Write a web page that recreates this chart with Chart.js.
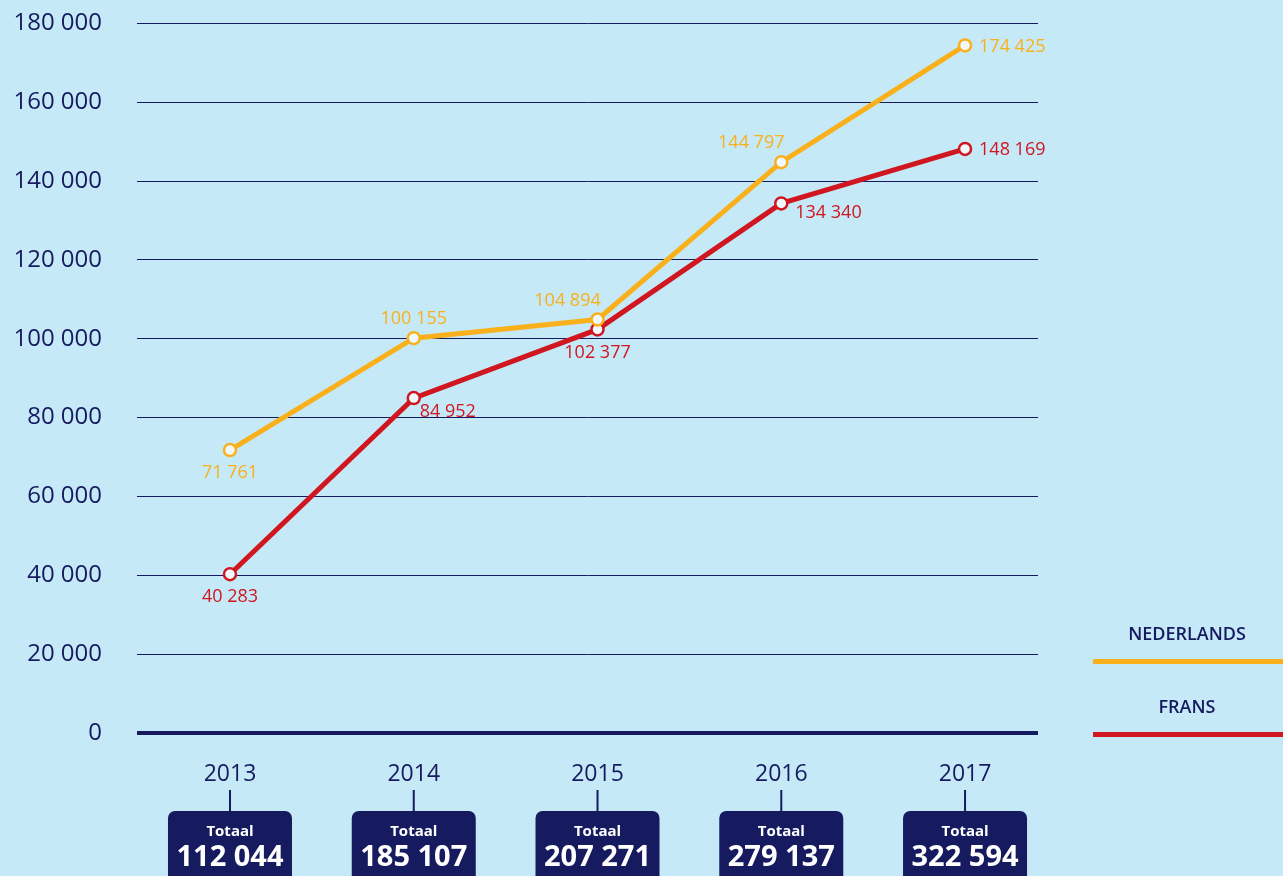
<!DOCTYPE html>
<html>
<head>
<meta charset="utf-8">
<script src="https://cdn.jsdelivr.net/npm/chart.js@4.4.1/dist/chart.umd.min.js"></script>
<style>
  html, body { margin: 0; padding: 0; background: #c6e9f8; overflow: hidden; }
  #wrap { width: 1283px; height: 876px; overflow: hidden; position: relative; }
  #chart { display: block; }
</style>
</head>
<body>
<div id="wrap"><canvas id="chart" width="1283" height="876"></canvas></div>
<script>
// data
var years = [2013, 2014, 2015, 2016, 2017];
var nederlands = [71761, 100155, 104894, 144797, 174425];
var frans = [40283, 84952, 102377, 134340, 148169];
var totals = [112044, 185107, 207271, 279137, 322594];
var yTicks = [0, 20000, 40000, 60000, 80000, 100000, 120000, 140000, 160000, 180000];

var NAVY = '#161a5f';
var ORANGE = '#f9b01a';
var RED = '#d0161f';
var BG = '#c6e9f8';
var FONT = '"Open Sans", sans-serif';
var PAGE_H = 876;
var TOP = 23;

function fmt(n) {
    return String(n).replace(/\B(?=(\d{3})+(?!\d))/g, ' ');
}

// where the value label goes relative to its point
var nlPlace = ['b', 't', 'tl', 'tl', 'r'];
var frPlace = ['b', 'br', 'b', 'rb', 'r'];

var valueLabels = {
    id: 'valueLabels',
    afterDatasetsDraw: function (chart) {
        var ctx = chart.ctx;
        ctx.save();
        ctx.font = '18px ' + FONT;
        ctx.textBaseline = 'middle';
        chart.data.datasets.forEach(function (ds, di) {
            var place = di === 0 ? nlPlace : frPlace;
            chart.getDatasetMeta(di).data.forEach(function (pt, i) {
                var txt = fmt(ds.data[i].y);
                var x = pt.x, y = pt.y;
                ctx.fillStyle = ds.borderColor;
                switch (place[i]) {
                    case 'b': ctx.textAlign = 'center'; y += 23; break;
                    case 't': ctx.textAlign = 'center'; y -= 19; break;
                    case 'tl': ctx.textAlign = 'center'; x -= 30; y -= 19; break;
                    case 'br': ctx.textAlign = 'left'; x += 6; y += 14; break;
                    case 'rb': ctx.textAlign = 'left'; x += 14; y += 9; break;
                    case 'r': ctx.textAlign = 'left'; x += 14; y += 1; break;
                }
                ctx.fillText(txt, x, y);
            });
        });
        ctx.restore();
    }
};

var extras = {
    id: 'extras',
    afterDraw: function (chart) {
        var ctx = chart.ctx;
        var xs = chart.scales.x;
        var B = chart.chartArea.bottom;
        ctx.save();
        // totals boxes under the years
        years.forEach(function (yr, i) {
            var cx = xs.getPixelForValue(yr);
            ctx.strokeStyle = NAVY;
            ctx.lineWidth = 2;
            ctx.beginPath();
            ctx.moveTo(cx, B + 57);
            ctx.lineTo(cx, B + 79);
            ctx.stroke();
            ctx.fillStyle = NAVY;
            ctx.beginPath();
            ctx.roundRect(cx - 62, B + 78, 124, 80, 7);
            ctx.fill();
            ctx.fillStyle = '#ffffff';
            ctx.textAlign = 'center';
            ctx.textBaseline = 'middle';
            ctx.font = 'bold 15px ' + FONT;
            ctx.fillText('Totaal', cx, B + 99);
            ctx.font = 'bold 29px ' + FONT;
            ctx.fillText(fmt(totals[i]), cx, B + 125);
        });
        // legend
        var items = [['NEDERLANDS', ORANGE, B - 98], ['FRANS', RED, B - 25]];
        items.forEach(function (it) {
            ctx.fillStyle = NAVY;
            ctx.font = '600 18px ' + FONT;
            ctx.textAlign = 'center';
            ctx.textBaseline = 'middle';
            ctx.fillText(it[0], 1187, it[2]);
            ctx.fillStyle = it[1];
            ctx.fillRect(1093, it[2] + 24, 190, 5);
        });
        ctx.restore();
    }
};

function toPoints(arr) {
    return arr.map(function (v, i) { return { x: years[i], y: v }; });
}

function makeDataset(label, values, color) {
    return {
        label: label,
        data: toPoints(values),
        borderColor: color,
        backgroundColor: BG,
        borderWidth: 5,
        pointRadius: 6,
        pointBorderWidth: 2.5,
        pointBackgroundColor: '#eef8fd',
        pointBorderColor: color,
        tension: 0
    };
}

function build(canvas) {
    return new Chart(canvas.getContext('2d'), {
        type: 'line',
        data: {
            datasets: [
                makeDataset('NEDERLANDS', nederlands, ORANGE),
                makeDataset('FRANS', frans, RED)
            ]
        },
        options: {
            responsive: false,
            animation: false,
            layout: { padding: { left: 0, right: 245, top: 0, bottom: 0 } },
            plugins: {
                legend: { display: false },
                tooltip: { enabled: false }
            },
            scales: {
                x: {
                    type: 'linear',
                    min: 2012.494,
                    max: 2017.397,
                    afterBuildTicks: function (s) {
                        s.ticks = years.map(function (y) { return { value: y }; });
                    },
                    afterFit: function (s) { s.height = 143; },
                    grid: { display: false },
                    border: { display: false },
                    ticks: {
                        color: NAVY,
                        font: { family: FONT, size: 23, weight: '500' },
                        padding: 20,
                        callback: function (v) { return String(v); }
                    }
                },
                y: {
                    min: 0,
                    max: 180000,
                    afterBuildTicks: function (s) {
                        s.ticks = yTicks.map(function (v) { return { value: v }; });
                    },
                    afterFit: function (s) { s.width = 137; },
                    border: { display: false },
                    grid: {
                        color: NAVY,
                        drawTicks: false,
                        lineWidth: function (c) { return c.tick && c.tick.value === 0 ? 4 : 1; }
                    },
                    ticks: {
                        color: NAVY,
                        font: { family: FONT, size: 24, weight: '500' },
                        padding: 35,
                        callback: function (v) { return fmt(v); }
                    }
                }
            }
        },
        plugins: [valueLabels, extras]
    });
}

var canvas = document.getElementById('chart');
var chart = build(canvas);
// the layout keeps some room above the plot; pull the canvas up so the top gridline sits where it should
var extra = Math.round(chart.chartArea.top - TOP);
if (extra > 0) {
    chart.destroy();
    canvas.width = 1283;
    canvas.height = PAGE_H + extra;
    canvas.style.marginTop = (-extra) + 'px';
    chart = build(canvas);
}
</script>
</body>
</html>
